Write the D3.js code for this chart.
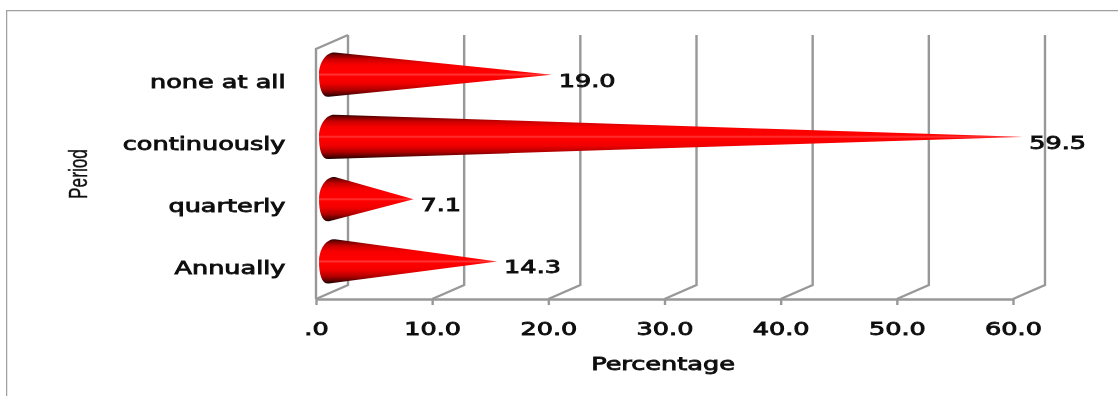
<!DOCTYPE html>
<html>
<head>
<meta charset="utf-8">
<script src="https://cdn.jsdelivr.net/npm/d3@7"></script>
<style>
  html, body { margin: 0; padding: 0; background: #fff; }
  svg { display: block; }
  text { font-family: "DejaVu Sans", sans-serif; fill: #111; stroke: #111; stroke-width: 0.85px; }
</style>
</head>
<body>
<div id="chart"></div>
<script>
/* Cone bar chart: percentage by period */

const categories = ["Annually", "quarterly", "continuously", "none at all"];
const percentages = [14.3, 7.1, 59.5, 19.0];
const valueLabels = ["14.3", "7.1", "59.5", "19.0"];
const xTicks = [0, 10, 20, 30, 40, 50, 60];
const xTickLabels = [".0", "10.0", "20.0", "30.0", "40.0", "50.0", "60.0"];

const width = 1118,
      height = 396,
      floorY = 299,
      wallTop = 35,
      depth = { x: 32, y: 14 }, // how far the back wall is shifted from the floor edge
      stretch = 1.42;           // the source picture is stretched sideways

const svg = d3.select("#chart")
    .append("svg")
    .attr("width", width)
    .attr("height", height)
    .attr("viewBox", [0, 0, width, height]);

const defs = svg.append("defs");

defs.append("filter")
    .attr("id", "soft")
    .attr("x", 0).attr("y", 0).attr("width", 1).attr("height", 1)
    .append("feGaussianBlur")
    .attr("stdDeviation", 0.6);

// cone shading, dark edges and a pale line along the middle
const shade = defs.append("linearGradient")
    .attr("id", "cone")
    .attr("x1", 0).attr("y1", 0).attr("x2", 0).attr("y2", 1);
[[0, "#260000"], [0.05, "#700000"], [0.15, "#c80000"], [0.28, "#f80000"], [0.46, "#ff0000"], [0.5, "#ff3434"],
 [0.54, "#ff0000"], [0.7, "#f00000"], [0.84, "#b00000"], [0.94, "#580000"], [1, "#1c0000"]]
    .forEach(s => shade.append("stop").attr("offset", s[0]).attr("stop-color", s[1]));

const root = svg.append("g").attr("filter", "url(#soft)");

let x = d3.scaleLinear()
    .domain([0, 60])
    .range([316, 1013]);

let y = d3.scaleBand()
    .domain(categories)
    .range([292.5, 43.5])
    .paddingInner(0.29)
    .paddingOuter(0.145);

// outer frame of the picture
root.append("path")
    .attr("d", `M6.5,${height}V10.5H${width}`)
    .attr("fill", "none")
    .attr("stroke", "#a0a0a0")
    .attr("stroke-width", 1.5);

// gridlines running over the floor and up the back wall
root.append("g")
    .selectAll("path")
    .data(xTicks)
    .join("path")
    .attr("d", d => `M${x(d)},${floorY}L${x(d) + depth.x},${floorY - depth.y}V${wallTop}`)
    .attr("fill", "none")
    .attr("stroke", "#989898")
    .attr("stroke-width", 2.4);

// side wall
root.append("path")
    .attr("d", `M${x(0)},${floorY}V${wallTop + depth.y}L${x(0) + depth.x},${wallTop}`)
    .attr("fill", "none")
    .attr("stroke", "#989898")
    .attr("stroke-width", 2.4);

const xAxis = d3.axisBottom(x)
    .tickValues(xTicks)
    .tickFormat((d, i) => xTickLabels[i])
    .tickSize(6)
    .tickSizeOuter(0)
    .tickPadding(17);

const xG = root.append("g")
    .attr("transform", `translate(0,${floorY})`)
    .call(xAxis);
xG.select(".domain").attr("stroke", "#989898").attr("stroke-width", 2.4);
xG.selectAll(".tick line").attr("stroke", "#989898").attr("stroke-width", 2.4);
xG.selectAll(".tick text")
    .attr("font-size", 18)
    .attr("transform", `scale(${stretch},1)`);

const yAxis = d3.axisLeft(y).tickSize(0).tickPadding(21.5);

const yG = root.append("g")
    .attr("transform", `translate(${x(0)},0)`)
    .call(yAxis);
yG.select(".domain").remove();
yG.selectAll(".tick text")
    .attr("font-size", 18)
    .attr("dy", "0.72em")
    .attr("transform", `scale(${stretch},1)`);

// one cone: rounded base near the axis, narrowing to a point at the value
function conePath(d, i) {
    const cy = y(categories[i]) + y.bandwidth() / 2,
          half = y.bandwidth() / 2,
          left = x(0) + 3,
          tip = x(d) + depth.x / 2 - 1;
    const p = d3.path();
    p.moveTo(tip, cy);
    p.lineTo(left + 16, cy - half);
    p.bezierCurveTo(left + 8, cy - half - 1, left, cy - half + 9, left, cy);
    p.bezierCurveTo(left, cy + half - 9, left + 3, cy + half + 1, left + 10, cy + half);
    p.closePath();
    return p.toString();
}

root.append("g")
    .selectAll("path")
    .data(percentages)
    .join("path")
    .attr("d", conePath)
    .attr("fill", "url(#cone)");

// value labels just past the tips
root.append("g")
    .selectAll("text")
    .data(percentages)
    .join("text")
    .text((d, i) => valueLabels[i])
    .attr("font-size", 18)
    .attr("transform", (d, i) =>
        `translate(${x(d) + depth.x / 2 + 6},${y(categories[i]) + y.bandwidth() / 2 + 12}) scale(${stretch},1)`);

root.append("text")
    .text("Percentage")
    .attr("text-anchor", "middle")
    .attr("font-size", 18)
    .attr("transform", `translate(663,370) scale(${stretch},1)`);

root.append("text")
    .text("Period")
    .attr("text-anchor", "middle")
    .attr("font-size", 25)
    .attr("transform", "translate(87,174) rotate(-90) scale(0.69,1)")
    .style("font-family", '"Liberation Sans", sans-serif')
    .style("stroke-width", "0.4px");
</script>
</body>
</html>
